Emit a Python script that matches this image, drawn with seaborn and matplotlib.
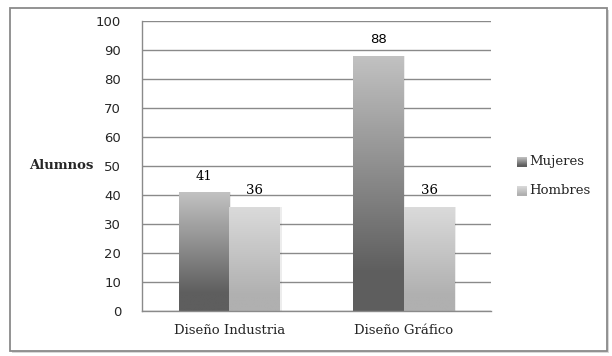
import pandas as pd
import matplotlib.pyplot as plt
import matplotlib.patches as mpatches
from matplotlib.colors import LinearSegmentedColormap
import seaborn as sns
import numpy as np

# Data
carreras = ['Diseño Industria', 'Diseño Gráfico']
sexos = ['Mujeres', 'Hombres']
mujeres = [41, 88]
hombres = [36, 36]

df = pd.DataFrame({
    'carrera': carreras * 2,
    'sexo': [sexos[0]] * 2 + [sexos[1]] * 2,
    'alumnos': mujeres + hombres,
})

# gradient colours (bottom, top)
GRAD = {'Mujeres': ('#5e5e5e', '#c2c2c2'), 'Hombres': ('#b0b0b0', '#dbdbdb')}
GRID_COLOR = '#8a8a8a'
SERIF = 'DejaVu Serif'
SANS = 'DejaVu Sans'

sns.set_style('white')


def make_cmap(c0, c1):
    return LinearSegmentedColormap.from_list('g', [(0, c0), (0.15, c0), (1, c1)])


fig = plt.figure(figsize=(6.12, 3.56), dpi=100)
ax = fig.add_axes([142 / 612, 45 / 356, 349 / 612, 290 / 356])

sns.barplot(data=df, x='carrera', y='alumnos', hue='sexo', order=carreras,
            hue_order=sexos, palette=['#909090', '#c8c8c8'], width=0.58,
            legend=False, ax=ax, saturation=1)


def gradient_fill(ax, patch, c0, c1):
    x, y = patch.get_x(), patch.get_y()
    w, h = patch.get_width(), patch.get_height()
    grad = np.linspace(0, 1, 256).reshape(-1, 1)
    im = ax.imshow(grad, cmap=make_cmap(c0, c1), aspect='auto', origin='lower',
                   extent=[x, x + w, y, y + h], zorder=patch.get_zorder() + 0.1)
    im.set_clip_path(patch)
    # soft shadow
    sh = mpatches.Rectangle((x + 0.01, y), w, h, facecolor='black', alpha=0.07,
                            edgecolor='none', zorder=patch.get_zorder() - 0.1)
    ax.add_patch(sh)


for sexo, cont in zip(sexos, ax.containers):
    for bar in cont:
        bar.set_edgecolor('none')
        gradient_fill(ax, bar, *GRAD[sexo])

# value labels
for sexo, cont in zip(sexos, ax.containers):
    for i, bar in enumerate(cont):
        val = int(bar.get_height())
        fam = SANS if val == 88 else SERIF
        ax.annotate(str(val), (bar.get_x() + bar.get_width() / 2, val),
                    xytext=(0, 11.5), textcoords='offset points',
                    ha='center', va='center', fontsize=9.5, family=fam, color='black')

ax.set_xlim(-0.5, 1.5)
ax.set_ylim(0, 100)
ax.set_yticks(range(0, 101, 10))
ax.set_yticklabels([str(v) for v in range(0, 101, 10)], family=SANS, fontsize=9.5)
ax.grid(axis='y', color=GRID_COLOR, linewidth=1)
ax.set_axisbelow(True)

ax.set_xticks([-0.5, 0.5, 1.5])
ax.set_xticklabels([])
ax.set_xticks([0, 1], minor=True)
ax.set_xticklabels(carreras, minor=True, family=SERIF, fontsize=9.5)
ax.tick_params(axis='x', which='minor', length=0, pad=9)
ax.tick_params(axis='x', which='major', length=5, width=1, color=GRID_COLOR, direction='out')
ax.tick_params(axis='y', length=5, width=1, color=GRID_COLOR, direction='out', pad=10)
ax.set_xlabel('')
ax.set_ylabel('')

for s in ['top', 'right']:
    ax.spines[s].set_visible(False)
for s in ['left', 'bottom']:
    ax.spines[s].set_color(GRID_COLOR)
    ax.spines[s].set_linewidth(1)

fig.text(61 / 612, 1 - 166 / 356, 'Alumnos', ha='center', va='center',
         family=SERIF, fontsize=9.5, fontweight='bold')

# legend (drawn by hand with gradient swatches)
for k, (sexo, ypx) in enumerate(zip(sexos, [162, 191])):
    sw = fig.add_axes([517 / 612, 1 - (ypx + 5) / 356, 10 / 612, 10 / 356])
    sw.imshow(np.linspace(0, 1, 64).reshape(-1, 1), cmap=make_cmap(*GRAD[sexo]),
              aspect='auto', origin='lower')
    sw.axis('off')
    fig.text(529 / 612, 1 - ypx / 356, sexo, ha='left', va='center',
             family=SERIF, fontsize=9.5)

# figure frame
fig.patches.append(mpatches.Rectangle((12 / 612, 1 - 353 / 356), 597 / 612, 343 / 356,
                                      transform=fig.transFigure, facecolor='#d8d8d8',
                                      edgecolor='none', zorder=-2))
fig.patches.append(mpatches.Rectangle((10 / 612, 1 - 351 / 356), 597 / 612, 343 / 356,
                                      transform=fig.transFigure, facecolor='white',
                                      edgecolor='#8a8a8a', linewidth=1.3, zorder=-1))

fig.savefig('out.png', dpi=100)
